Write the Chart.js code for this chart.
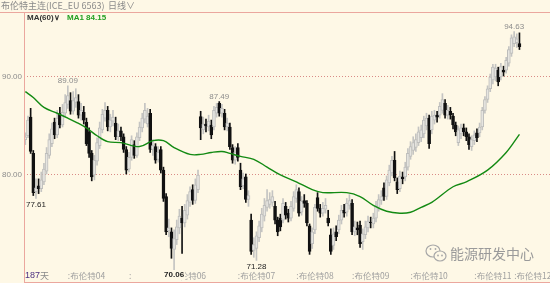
<!DOCTYPE html>
<html><head><meta charset="utf-8">
<script src="https://cdn.jsdelivr.net/npm/chart.js@4/dist/chart.umd.min.js"></script>
<style>html,body{margin:0;padding:0;background:#FEF8E6;overflow:hidden}#wrap{width:550px;height:283px;position:relative}</style>
</head><body><div id="wrap"><canvas id="c" width="550" height="283"></canvas></div>
<script>
// ---- data ----
const openP = [83.6,84.0,85.9,82.2,78.3,78.9,78.6,79.3,80.4,82.0,83.2,85.4,84.1,86.3,85.1,86.3,87.2,87.6,86.5,87.4,
87.5,86.1,86.4,85.4,84.4,82.2,80.0,81.4,83.0,84.6,85.8,86.6,84.9,85.5,85.3,83.9,84.5,83.9,82.6,80.6,
81.8,83.1,82.0,83.8,84.8,85.7,85.2,86.3,82.6,82.9,81.6,82.6,80.5,77.8,74.3,74.2,72.4,73.4,74.6,75.6,
75.1,75.9,77.2,78.5,77.4,78.5,85.95,84.6,85.2,84.9,85.1,84.9,86.3,87.3,86.3,86.3,84.9,84.9,82.8,81.5,
82.8,80.5,78.9,79.8,77.5,75.4,72.3,72.5,73.6,74.6,75.8,76.7,77.0,77.2,76.8,75.4,75.6,75.4,76.8,76.1,
75.6,76.6,77.6,78.3,76.2,77.4,77.1,74.8,73.0,74.4,77.7,76.6,76.1,76.5,75.6,73.9,72.8,74.2,74.4,75.4,
76.4,76.2,76.9,77.1,74.2,74.6,74.9,73.2,73.9,74.6,75.2,75.0,75.6,76.7,77.4,78.7,77.8,79.2,80.2,81.5,
79.3,78.6,79.8,79.8,80.8,81.9,82.5,82.8,83.3,83.8,84.2,85.0,85.8,84.6,85.6,86.1,86.1,86.6,87.3,86.1,
86.5,86.0,85.1,83.3,84.2,84.8,84.4,83.9,82.9,83.5,84.3,84.3,84.9,86.6,87.7,88.8,89.7,90.0,90.7,90.0,
90.7,90.7,91.4,92.4,93.4,93.5,93.4];
const highP = [84.3,86.0,86.8,82.5,79.6,79.6,80.3,81.2,82.8,84.2,85.3,85.8,86.6,86.9,87.2,88.2,89.09,88.4,88.5,88.8,
88.2,87.3,87.0,85.8,84.8,82.5,82.0,83.8,85.4,86.7,87.4,87.0,86.2,86.6,85.9,85.2,84.9,84.2,82.9,82.3,
84.0,83.5,84.3,85.4,86.3,87.3,86.8,86.7,83.6,83.2,82.9,82.9,80.8,78.1,75.5,74.6,74.4,75.4,76.5,76.8,
77.0,78.0,78.8,79.0,79.6,80.5,86.5,85.9,85.7,86.1,85.6,87.0,87.3,87.49,87.2,86.7,85.8,85.3,83.1,82.9,
83.2,81.2,80.2,80.1,78.4,76.0,73.6,74.2,75.3,76.6,77.6,78.5,78.2,78.4,77.3,75.7,76.0,77.6,77.2,76.5,
77.3,78.3,79.0,78.7,77.8,78.0,77.4,75.0,74.6,77.0,78.2,77.0,77.2,77.6,76.4,74.5,74.6,74.8,75.9,76.9,
77.0,77.6,78.0,77.5,75.3,75.2,75.3,74.5,75.3,75.8,75.7,76.1,77.3,78.0,78.4,79.2,79.9,81.0,81.9,82.4,
79.7,80.4,80.3,81.3,82.7,83.4,83.9,84.2,84.9,85.1,86.0,86.3,86.1,86.5,86.6,86.5,87.4,88.3,87.7,87.1,
86.9,86.3,85.4,85.0,85.2,85.2,84.8,84.2,84.0,84.5,84.7,85.3,86.9,88.0,89.1,90.3,91.3,91.3,91.0,91.4,
91.1,92.0,93.1,94.3,94.63,94.4,94.5];
const lowP = [83.1,83.8,82.2,77.9,77.61,78.1,78.3,79.0,80.1,81.7,82.9,83.7,83.8,84.8,84.9,86.0,86.8,86.2,86.2,86.9,
85.8,85.6,85.2,83.0,81.8,79.4,79.5,81.0,82.7,84.3,85.5,84.5,84.4,85.0,83.6,83.5,83.5,82.3,80.1,80.3,
81.5,81.7,81.8,83.5,84.4,85.3,84.9,82.3,82.0,81.2,81.3,80.2,77.3,73.9,73.7,71.5,70.06,72.9,74.0,72.0,
74.7,75.5,76.8,77.0,77.1,78.2,83.6,84.2,84.4,84.5,83.7,84.6,85.9,86.0,85.9,84.6,84.5,82.6,81.2,81.1,
81.4,78.5,78.6,77.2,76.8,71.9,71.6,71.28,73.2,74.2,75.3,76.3,76.6,76.8,75.0,73.8,74.3,75.1,75.5,75.2,
75.3,76.3,77.2,75.8,75.9,76.7,74.8,71.9,72.5,74.0,76.3,75.7,75.8,76.1,74.8,71.9,72.4,73.3,74.0,75.0,
75.7,75.8,76.5,73.9,73.8,73.9,72.6,72.4,73.5,74.2,74.6,74.6,75.2,76.3,77.0,77.4,77.5,78.9,79.9,79.4,
78.1,78.3,79.1,79.4,80.5,81.6,82.1,82.4,83.0,83.4,83.8,84.6,82.7,84.2,85.2,85.4,85.8,86.3,85.8,85.7,
85.7,84.7,84.0,83.0,83.7,84.0,83.5,82.6,82.5,83.1,83.4,83.9,84.6,86.3,87.4,88.5,89.3,89.6,89.1,89.7,
90.1,90.4,91.1,92.1,93.1,93.0,92.8];
const closeP = [83.9,85.6,82.4,78.2,78.7,78.6,79.5,80.6,82.2,83.6,84.7,84.1,85.8,85.1,86.4,87.4,88.1,86.5,87.6,87.9,
86.1,86.6,85.6,83.2,82.2,79.8,81.5,83.3,84.8,86.2,86.6,84.9,85.6,85.9,83.9,84.5,83.9,82.6,80.5,81.8,
83.6,82.0,83.9,84.9,85.8,86.6,86.0,82.6,83.0,81.5,82.3,80.5,77.6,74.2,74.6,72.5,73.5,74.7,75.8,75.1,
76.4,77.4,78.3,77.4,79.0,80.0,84.8,85.2,85.0,85.5,84.1,86.6,86.9,86.3,86.8,84.9,85.3,82.9,81.5,82.3,
81.8,78.8,79.6,77.5,77.9,72.2,72.9,73.8,74.8,76.0,76.9,77.4,77.5,77.8,75.4,74.2,74.7,77.1,75.9,75.6,
76.8,77.8,78.5,76.1,77.3,77.1,75.1,72.2,74.2,76.7,76.6,76.1,76.6,76.9,75.1,72.2,74.0,73.7,75.4,76.4,
76.1,77.1,77.4,74.2,74.7,74.4,73.0,74.0,74.7,75.3,75.1,75.6,76.8,77.5,77.8,77.8,79.5,80.5,81.5,79.7,
78.5,79.9,79.6,80.8,82.2,82.9,83.3,83.6,84.4,84.6,85.6,85.8,83.2,86.0,86.1,85.9,87.0,87.7,86.1,86.6,
86.1,85.1,84.4,84.6,84.8,84.4,83.9,83.1,83.6,84.1,83.8,84.9,86.6,87.7,88.8,90.0,91.0,90.9,89.5,91.05,
90.5,91.7,92.8,94.0,94.1,93.9,93.1];
// MA(60) read at sample days
const maDay = [0,3,7,12,16,19,23,27,31,36,43,48,52,56,62,66,70,74,77,81,86,91,96,102,108,112,121,126,131,136,141,145,149,153,161,166,174,181,186];
const maVal = [88.5,87.9,86.9,86.3,85.8,85.4,84.8,84.0,83.4,83.3,82.9,83.5,83.5,82.8,82.1,82.1,82.3,82.4,82.2,81.9,81.6,80.8,80.0,79.3,78.5,78.2,78.2,77.8,76.9,76.3,76.1,76.2,76.7,77.2,78.8,79.3,80.5,82.3,84.15];
const totalSlots = 198;
const categories = Array.from({length: totalSlots}, (_, i) => String(i + 1));
const yTicks = [80, 90];
const monthTickDay = [16, 39, 54, 80, 102, 123, 145, 169, 184];
const monthTickText = [':布伦特04', ':', ':布伦特06', ':布伦特07', ':布伦特08', ':布伦特09', ':布伦特10', ':布伦特11', ':布伦特12'];
const peakMarks = [{day:16, v:89.09, t:'89.09'}, {day:73, v:87.49, t:'87.49'}, {day:184, v:94.63, t:'94.63'}];
const lowMarks = [{day:4, v:77.61, t:'77.61'}, {day:87, v:71.28, t:'71.28'}, {day:56, v:70.06, t:'70.06', bold:true}];

// ---- build ----
const BG = '#FEF8E6';
const isUp = closeP.map((c, i) => c >= openP[i]);
const wickData = lowP.map((l, i) => [l, highP[i]]);
const bodyData = openP.map((o, i) => [o, closeP[i]]);
const maData = new Array(totalSlots).fill(null);
maDay.forEach((d, k) => { maData[d] = maVal[k]; });

const overlay = {
  id: 'overlay',
  beforeDraw(chart) {
    const ctx = chart.ctx;
    ctx.save(); ctx.fillStyle = BG; ctx.fillRect(0, 0, chart.width, chart.height); ctx.restore();
  },
  beforeDatasetsDraw(chart) {
    const ctx = chart.ctx, xs = chart.scales.x, a = chart.chartArea;
    ctx.save();
    ctx.textAlign = 'left'; ctx.textBaseline = 'middle';
    ctx.font = '8.5px "Noto Sans CJK SC"'; ctx.fillStyle = '#a0a0a0';
    monthTickDay.forEach((d, k) => ctx.fillText(monthTickText[k], xs.getPixelForValue(d), a.bottom - 6));
    ctx.restore();
  },
  afterDraw(chart) {
    const ctx = chart.ctx, xs = chart.scales.x, ys = chart.scales.y, a = chart.chartArea;
    ctx.save();
    // frame lines
    ctx.strokeStyle = '#EBA79E'; ctx.lineWidth = 1;
    ctx.beginPath(); ctx.moveTo(0, 12.5); ctx.lineTo(550, 12.5); ctx.stroke();
    ctx.beginPath(); ctx.moveTo(24, 282.5); ctx.lineTo(550, 282.5); ctx.stroke();
    ctx.beginPath(); ctx.moveTo(24.5, 12); ctx.lineTo(24.5, 283); ctx.stroke();
    // header
    ctx.textBaseline = 'middle'; ctx.textAlign = 'left';
    ctx.fillStyle = '#8a8a8a'; ctx.font = '9px "Noto Sans CJK SC"';
    ctx.fillText('布伦特主连(ICE_EU 6563)', 1, 6);
    ctx.fillText('日线∨', 108, 6);
    ctx.font = 'bold 8px "Liberation Sans"'; ctx.fillStyle = '#333';
    ctx.fillText('MA(60)∨', 27, 18);
    ctx.fillStyle = '#23a023';
    ctx.fillText('MA1 ' + maVal[maVal.length - 1].toFixed(2), 67, 18);
    // peak labels
    ctx.textAlign = 'center';
    ctx.font = '8px "Liberation Sans"'; ctx.fillStyle = '#8c8c8c'; ctx.textBaseline = 'bottom';
    peakMarks.forEach(m => ctx.fillText(m.t, xs.getPixelForValue(m.day), ys.getPixelForValue(m.v) - 1));
    ctx.textBaseline = 'top';
    lowMarks.forEach(m => {
      const x = xs.getPixelForValue(m.day);
      let y = Math.min(ys.getPixelForValue(m.v) + 2, a.bottom - 11);
      ctx.font = (m.bold ? 'bold ' : '') + '8px "Liberation Sans"';
      if (m.bold) { const w = ctx.measureText(m.t).width; ctx.fillStyle = BG; ctx.fillRect(x - w / 2 - 1, y - 1, w + 2, 10); }
      ctx.fillStyle = '#222';
      ctx.fillText(m.t, x, y);
    });
    // days count
    ctx.textAlign = 'left'; ctx.textBaseline = 'middle';
    ctx.font = '9px "Liberation Sans"'; ctx.fillStyle = '#4b2f80';
    ctx.fillText(String(closeP.length), 25, 276);
    const w187 = ctx.measureText(String(closeP.length)).width;
    ctx.font = '9px "Noto Sans CJK SC"'; ctx.fillStyle = '#8a8a8a';
    ctx.fillText('天', 25 + w187, 276);
    // watermark
    ctx.strokeStyle = '#a8a8a8'; ctx.lineWidth = 1.2;
    ctx.beginPath(); ctx.ellipse(433, 251, 7, 6, 0, 0, Math.PI * 2); ctx.stroke();
    ctx.fillStyle = BG;
    ctx.beginPath(); ctx.ellipse(440, 256, 6, 5, 0, 0, Math.PI * 2); ctx.fill(); ctx.stroke();
    ctx.fillStyle = '#a8a8a8';
    [[430.5,249],[435.5,249],[438,255.5],[442,255.5]].forEach(p => { ctx.beginPath(); ctx.arc(p[0], p[1], 0.9, 0, Math.PI * 2); ctx.fill(); });
    ctx.font = '14px "Noto Sans CJK SC"'; ctx.fillStyle = '#9a9a9a'; ctx.textBaseline = 'middle';
    ctx.fillText('能源研发中心', 450, 254);
    ctx.restore();
  }
};

new Chart(document.getElementById('c'), {
  type: 'bar',
  data: {
    labels: categories,
    datasets: [
      { type: 'line', label: 'MA60', data: maData, spanGaps: true, borderColor: '#138a13', borderWidth: 1.4,
        pointRadius: 0, pointHoverRadius: 0, tension: 0.35, order: 0 },
      { label: 'body', data: bodyData, grouped: false, barThickness: 3, minBarLength: 1, borderWidth: 1, borderSkipped: false,
        borderColor: isUp.map(u => u ? '#BDBDBB' : '#111111'),
        backgroundColor: isUp.map(u => u ? '#E6E5E0' : '#111111'), order: 1 },
      { label: 'wick', data: wickData, grouped: false, barThickness: 1, borderWidth: 0,
        backgroundColor: isUp.map(u => u ? '#C4C4C2' : '#111111'), order: 2 }
    ]
  },
  options: {
    responsive: false, animation: false, devicePixelRatio: 1,
    layout: { autoPadding: false, padding: { top: 12, left: 0, right: 0, bottom: 1 } },
    plugins: { legend: { display: false }, tooltip: { enabled: false } },
    scales: {
      x: { type: 'category', offset: true, display: false },
      y: {
        min: 69.08, max: 96.63,
        afterFit(s) { s.width = 24; s.paddingTop = 0; s.paddingBottom = 0; },
        afterBuildTicks(s) { s.ticks = yTicks.map(v => ({ value: v })); },
        grid: { color: '#D98B86', lineWidth: 1, drawTicks: false },
        border: { display: false, dash: [1, 2] },
        ticks: { color: '#8c8c8c', padding: 2, font: { size: 8, family: '"Liberation Sans"' },
          callback: v => Number(v).toFixed(2) }
      }
    }
  },
  plugins: [overlay]
});
</script></body></html>
